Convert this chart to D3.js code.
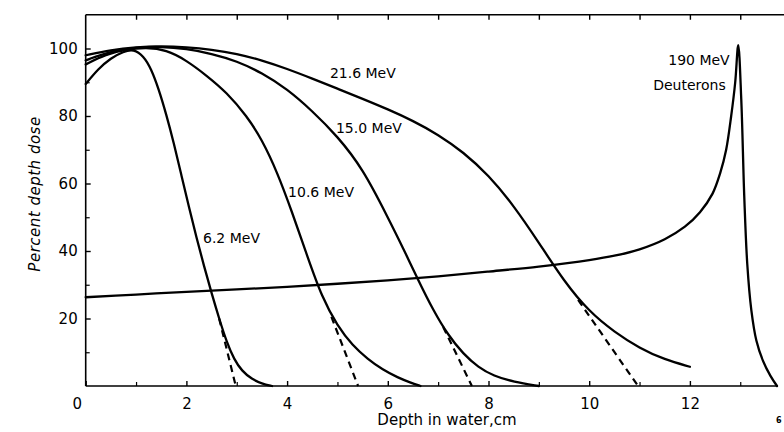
<!DOCTYPE html>
<html>
<head>
<meta charset="utf-8">
<script src="https://cdn.jsdelivr.net/npm/d3@7"></script>
<style>
  html, body { margin: 0; padding: 0; background: #fff; }
  svg { display: block; }
  text { font-family: "DejaVu Sans", "Liberation Sans", sans-serif; fill: #000; }
</style>
</head>
<body>
<script>
// ---- data (depth in cm, percent depth dose) ----
const xTickLabels = [0, 2, 4, 6, 8, 10, 12];
const xMinorTicks = [1, 3, 5, 7, 9, 11, 13];
const yTickLabels = [20, 40, 60, 80, 100];
const yMinorTicks = [10, 30, 50, 70, 90];

const e62 = [[0,89.5],[0.25,94],[0.5,97.2],[0.75,99.1],[0.95,99.8],[1.15,97.8],[1.3,94],[1.45,88],[1.6,80.5],[1.75,72],[1.9,62.5],[2.05,53],[2.2,44],[2.35,35.5],[2.5,27.5],[2.65,20],[2.8,13],[2.95,7.8],[3.1,4.5],[3.3,2],[3.5,0.7],[3.7,0]];
const e106 = [[0,95.3],[0.4,98.3],[0.8,99.7],[1.2,100.3],[1.6,99.6],[2.0,96.5],[2.4,92],[2.8,87],[3.2,80],[3.5,73],[3.8,63.5],[4.1,51.5],[4.4,38.5],[4.7,26],[5.0,17.8],[5.3,12],[5.6,8],[5.9,4.8],[6.2,2.5],[6.45,1],[6.65,0]];
const e150 = [[0,96.5],[0.5,99.2],[1.0,100.3],[1.5,100.6],[2.0,99.9],[2.5,98.5],[3.0,96.3],[3.5,92.8],[4.0,88],[4.5,81.5],[5.0,74],[5.5,64.5],[6.0,50],[6.3,41],[6.6,31.5],[6.9,22.5],[7.2,15],[7.5,9.5],[7.8,5.5],[8.1,3],[8.5,1.2],[9.0,0]];
const e216 = [[0,98],[0.5,99.6],[1.0,100.4],[1.5,100.7],[2.0,100.4],[2.5,99.7],[3.0,98.5],[3.5,96.5],[4.0,94],[4.5,91.1],[5.0,88.1],[5.5,85.1],[6.0,82],[6.5,78.6],[7.0,74.5],[7.5,69.3],[8.0,62.5],[8.5,53.5],[9.0,42.5],[9.5,31],[10.0,22],[10.5,16],[11.0,11.2],[11.5,7.8],[12.0,5.7]];
const deut190 = [[0,26.3],[1,27.1],[2,27.9],[3,28.6],[4,29.4],[5,30.3],[6,31.3],[7,32.5],[8,33.9],[9,35.4],[10,37.3],[10.5,38.6],[11,40.5],[11.5,43.5],[11.9,47.2],[12.2,51.5],[12.45,57],[12.6,63],[12.72,70],[12.82,80],[12.9,90],[12.96,101],[13.02,85],[13.08,56],[13.14,36],[13.22,22.5],[13.32,13.5],[13.45,7.5],[13.6,3],[13.73,0]];

const dash62 = [[2.65,20],[2.98,0]];
const dash106 = [[4.88,20.5],[5.41,0]];
const dash150 = [[7.1,17.5],[7.67,0]];
const dash216 = [[9.78,25.5],[10.97,0]];

const curveLabels = ["21.6 MeV", "15.0 MeV", "10.6 MeV", "6.2 MeV", "190 MeV", "Deuterons"];
const labelDepth = [4.85, 4.97, 4.02, 2.33, 11.57, 11.27];
const labelDose = [91.3, 75.0, 56.0, 42.4, 95.1, 87.7];

// ---- drawing ----
const W = 784, H = 432;
const svg = d3.select("body").append("svg").attr("width", W).attr("height", H);
svg.append("rect").attr("width", W).attr("height", H).attr("fill", "#fff");

const x = d3.scaleLinear().domain([0, 14]).range([85.7, 85.7 + 14 * 50.35]);
const y = d3.scaleLinear().domain([0, 110]).range([386, 14.75]);

// frame lines
const frame = svg.append("g").attr("stroke", "#000").attr("stroke-width", 1.6).attr("fill", "none");
frame.append("line").attr("x1", x(0)).attr("x2", x(0)).attr("y1", y(0)).attr("y2", y(110));
frame.append("line").attr("x1", x(0)).attr("x2", x(14)).attr("y1", y(110)).attr("y2", y(110));
frame.append("line").attr("x1", x(0)).attr("x2", x(13.75)).attr("y1", y(0)).attr("y2", y(0));

// bottom axis (inward ticks)
const bx = svg.append("g").attr("transform", `translate(0,${y(0)})`)
  .call(d3.axisBottom(x).tickValues(xTickLabels).tickSizeInner(-5).tickSizeOuter(0).tickPadding(12).tickFormat(d3.format("d")));
bx.select(".domain").remove();
bx.selectAll("line").attr("stroke-width", 1.4);
bx.selectAll("text").attr("font-size", 15).attr("font-family", "DejaVu Sans").attr("dx", d => d === 0 ? -9 : 0);
const bxm = svg.append("g").attr("transform", `translate(0,${y(0)})`)
  .call(d3.axisBottom(x).tickValues(xMinorTicks).tickSizeInner(-4).tickSizeOuter(0).tickFormat(""));
bxm.select(".domain").remove();
bxm.selectAll("line").attr("stroke-width", 1.2);

// top axis (inward ticks)
const tx = svg.append("g").attr("transform", `translate(0,${y(110)})`)
  .call(d3.axisTop(x).tickValues(d3.range(1, 14)).tickSizeInner(-5).tickSizeOuter(0).tickFormat(""));
tx.select(".domain").remove();
tx.selectAll("line").attr("stroke-width", 1.4);

// left axis (inward ticks)
const ly = svg.append("g").attr("transform", `translate(${x(0)},0)`)
  .call(d3.axisLeft(y).tickValues(yTickLabels).tickSizeInner(-5).tickSizeOuter(0).tickPadding(8).tickFormat(d3.format("d")));
ly.select(".domain").remove();
ly.selectAll("line").attr("stroke-width", 1.4);
ly.selectAll("text").attr("font-size", 15).attr("font-family", "DejaVu Sans");
const lym = svg.append("g").attr("transform", `translate(${x(0)},0)`)
  .call(d3.axisLeft(y).tickValues(yMinorTicks).tickSizeInner(-4).tickSizeOuter(0).tickFormat(""));
lym.select(".domain").remove();
lym.selectAll("line").attr("stroke-width", 1.2);

// curves
const smooth = d3.line().x(d => x(d[0])).y(d => y(d[1])).curve(d3.curveBasis);
const peaked = d3.line().x(d => x(d[0])).y(d => y(d[1])).curve(d3.curveCatmullRom.alpha(0.5));
const curves = svg.append("g").attr("fill", "none").attr("stroke", "#000")
  .attr("stroke-width", 2.3).attr("stroke-linejoin", "round").attr("stroke-linecap", "round");
[e62, e106, e150, e216].forEach(s => curves.append("path").attr("d", smooth(s)));
curves.append("path").attr("d", peaked(deut190));

const dashLine = d3.line().x(d => x(d[0])).y(d => y(d[1]));
[dash62, dash106, dash150, dash216].forEach(s => curves.append("path").attr("d", dashLine(s))
  .attr("stroke-dasharray", "7,5").attr("stroke-linecap", "butt").attr("stroke-width", 2.2));

// curve labels
curveLabels.forEach((t, i) => {
  svg.append("text").attr("x", x(labelDepth[i])).attr("y", y(labelDose[i]))
    .attr("font-size", 14).text(t);
});

// axis titles
svg.append("text").attr("x", 447).attr("y", 425).attr("text-anchor", "middle")
  .attr("font-size", 15).text("Depth in water,cm");
svg.append("text").attr("transform", "translate(40,194) rotate(-90)").attr("text-anchor", "middle")
  .attr("font-size", 15).attr("font-style", "italic").attr("letter-spacing", 0.5).text("Percent depth dose");

// figure number fragment at right edge
svg.append("text").attr("x", 776).attr("y", 423).attr("font-size", 8).attr("font-weight", "bold").text("6");
</script>
</body>
</html>
